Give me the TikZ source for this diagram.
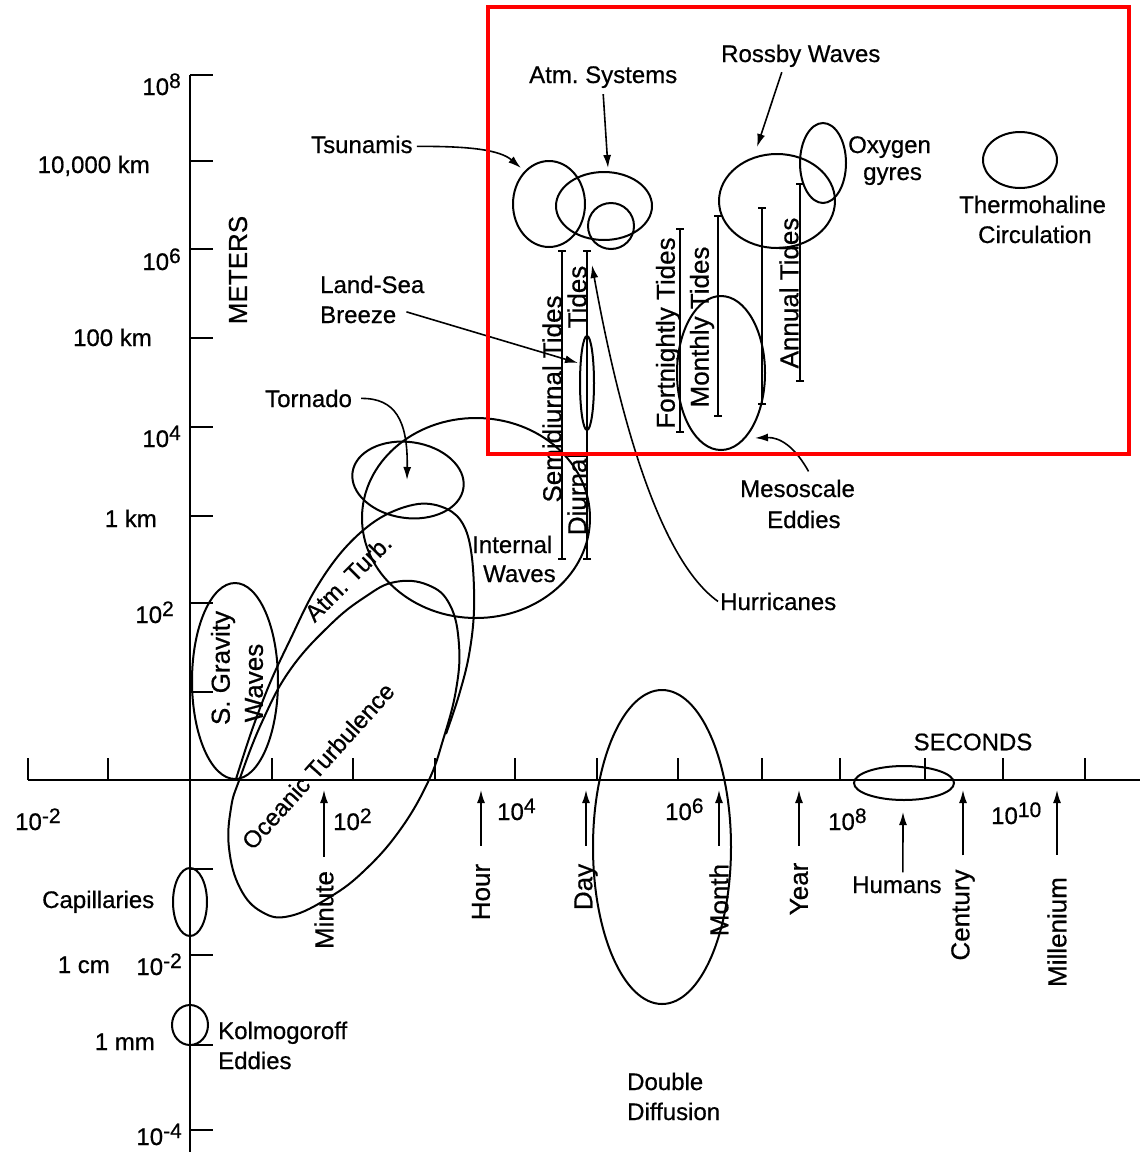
\documentclass[tikz,border=0pt]{standalone}
\usepackage{fontspec}
\setmainfont{Liberation Sans}[FakeBold=0.6]
\usetikzlibrary{arrows.meta}
\newcommand\pw[1]{10\raisebox{7pt}{\fontsize{21}{21}\selectfont #1}}
\frenchspacing
\begin{document}
\begin{tikzpicture}[x=1pt,y=-1pt,
  lbl/.style={inner sep=0pt,font=\fontsize{24}{28}\selectfont\frenchspacing},
  vlbl/.style={inner sep=0pt,rotate=90,font=\fontsize{26}{30}\selectfont\frenchspacing},
  shp/.style={line width=2pt},
  axisline/.style={line width=2.4pt},
  arr/.style={line width=1.6pt,-{Latex[length=13pt,width=8pt]}},
  tide/.style={line width=1.6pt,{Bar[width=8pt]}-{Bar[width=8pt]}},
  redbox/.style={draw=red,line width=4.5pt}]
\useasboundingbox (0,0) rectangle (1140,1152);
\fill[white] (0,0) rectangle (1140,1152);

% ---------------- axes
\draw[axisline] (28,780) -- (1140,780);
\draw[axisline] (190,75) -- (190,1152);
\foreach \x in {28,108,272,353,435,515,597,678,762,840,925,1003,1085}
  \draw[axisline] (\x,780) -- (\x,758);
\foreach \y in {75,161,249,338,427,516,603,692,869,955,1045,1130}
  \draw[axisline] (190,\y) -- (213,\y);

% vertical axis labels
\node[lbl,anchor=base east] (y8)  at (181,95)  {\pw{8}};
\node[lbl,anchor=base east] (y7)  at (150,173) {10,000 km};
\node[lbl,anchor=base east] (y6)  at (181,270) {\pw{6}};
\node[lbl,anchor=base east] (y5)  at (152,346) {100 km};
\node[lbl,anchor=base east] (y4)  at (181,447) {\pw{4}};
\node[lbl,anchor=base east] (y3)  at (157,527) {1 km};
\node[lbl,anchor=base east] (y2)  at (174,623) {\pw{2}};
\node[lbl,anchor=base east] (ym2) at (182,975) {\pw{-2}};
\node[lbl,anchor=base east] (ycm) at (110,973) {1 cm};
\node[lbl,anchor=base east] (ymm) at (155,1050) {1 mm};
\node[lbl,anchor=base east] (ym4) at (182,1145) {\pw{-4}};
\node[vlbl] (meters) at (238,270) {METERS};

% horizontal axis labels
\node[lbl,anchor=base west] (xm2) at (15,830)  {\pw{-2}};
\node[lbl,anchor=base west] (x2)  at (333,830) {\pw{2}};
\node[lbl,anchor=base west] (x4)  at (497,820) {\pw{4}};
\node[lbl,anchor=base west] (x6)  at (665,820) {\pw{6}};
\node[lbl,anchor=base west] (x8)  at (828,830) {\pw{8}};
\node[lbl,anchor=base west] (x10) at (991,824) {\pw{10}};
\node[lbl] (seconds) at (973,742) {SECONDS};

% time markers
\node[vlbl] (minute) at (324,910) {Minute};
\node[vlbl] (hour)   at (481,892) {Hour};
\node[vlbl] (day)    at (586,887) {Day};
\node[vlbl] (month)  at (719,900) {Month};
\node[vlbl] (year)   at (799,889) {Year};
\node[vlbl] (century) at (963,915) {Century};
\node[vlbl] (millen) at (1057,932) {Millenium};
\coordinate (tmin) at (324,790);
\coordinate (thour) at (481,790);
\coordinate (tday) at (586,790);
\coordinate (tmonth) at (719,790);
\coordinate (tyear) at (799,790);
\coordinate (tcent) at (963,790);
\coordinate (tmill) at (1057,790);
\draw[arr] ([yshift=14pt]minute.east) -- (tmin);
\draw[arr] ([yshift=18pt]hour.east) -- (thour);
\draw[arr] ([yshift=18pt]day.east) -- (tday);
\draw[arr] ([yshift=18pt]month.east) -- (tmonth);
\draw[arr] ([yshift=17pt]year.east) -- (tyear);
\draw[arr] ([yshift=14pt]century.east) -- (tcent);
\draw[arr] ([yshift=22pt]millen.east) -- (tmill);

% ---------------- small-scale phenomena
\draw[shp] (235,681) ellipse [x radius=43,y radius=98];
\node[vlbl] (sgrav) at (223,668) {S. Gravity};
\node[vlbl] (sgw) at (254,683) {Waves};

\draw[shp] (190,902) ellipse [x radius=17,y radius=34];
\node[lbl,anchor=base west] (capil) at (42,908) {Capillaries};

\draw[shp] (190,1025) ellipse [x radius=18,y radius=20];
\node[lbl,anchor=base west] (kolmo) at (218,1039) {Kolmogoroff};
\node[lbl,anchor=base west] (kolme) at (218,1069) {Eddies};

% oceanic turbulence
\draw[shp] plot[smooth cycle,tension=0.7] coordinates {
 (240,778) (262,722) (290,670) (330,625) (365,597) (395,582) (428,585)
 (450,605) (459,645) (456,690) (443,740) (428,782) (400,830) (365,870)
 (330,897) (290,916) (262,912) (240,888) (229,848) (231,808)};
\node[lbl,rotate=48] (ocean) at (318,766) {Oceanic Turbulence};

% atmospheric turbulence
\draw[shp] plot[smooth,tension=0.6] coordinates {
 (236,779) (252,730) (270,683) (290,640) (315,590) (345,548) (380,518)
 (418,504) (447,509) (464,526) (472,558) (474,610) (469,655) (459,695) (446,734)};
\node[lbl,rotate=45] (atmturb) at (348,578) {Atm. Turb.};

% internal waves, tornado
\draw[shp] (476,518) ellipse [x radius=114,y radius=100];
\node[lbl,anchor=base west] (intw1) at (472,553) {Internal};
\node[lbl,anchor=base west] (intw2) at (483,582) {Waves};
\draw[shp] (408,480) ellipse [x radius=56,y radius=38,rotate=-8];
\node[lbl,anchor=base west] (tornado) at (265,407) {Tornado};
\coordinate (torntip) at (407,480);
\draw[arr] ([xshift=9pt]tornado.east) .. controls (395,398) and (408,420) .. (torntip);

% ---------------- tides
\draw[tide] (562,250) -- (562,560);
\draw[tide] (587,250) -- (587,560);
\draw[tide] (680,228) -- (680,433);
\draw[tide] (718,215) -- (718,417);
\draw[tide] (762,207) -- (762,405);
\draw[tide] (800,183) -- (800,382);
\node[vlbl] (semi) at (552,399) {Semidiurnal Tides};
\node[vlbl] (dtides) at (577,297) {Tides};
\node[vlbl] (diurnal) at (577,494) {Diurnal};
\node[vlbl] (fort) at (668,333) {Fortnightly Tides};
\node[vlbl] (monthly) at (702,327) {Monthly Tides};
\node[vlbl] (annual) at (789,293) {Annual Tides};

% land-sea breeze
\draw[shp] (587,383) ellipse [x radius=7,y radius=47];
\node[lbl,anchor=base west] (land) at (320,293) {Land-Sea};
\node[lbl,anchor=base west] (breeze) at (320,323) {Breeze};
\coordinate (lstip) at (578,363);
\draw[arr] ([xshift=10pt,yshift=3pt]breeze.east) -- (lstip);

% tsunamis, atm systems
\draw[shp] (549,204) ellipse [x radius=36,y radius=43];
\draw[shp] (604,206) ellipse [x radius=48,y radius=34];
\draw[shp] (611,226) ellipse [x radius=23,y radius=23];
\node[lbl,anchor=base west] (tsun) at (311,153) {Tsunamis};
\coordinate (tsuntip) at (521,168);
\draw[arr] ([xshift=4pt,yshift=-2pt]tsun.east) .. controls (470,146) and (500,150) .. (tsuntip);
\node[lbl,anchor=base west] (atmsys) at (529,83) {Atm. Systems};
\coordinate (atmtip) at (608,168);
\draw[arr] ([yshift=-6pt]atmsys.south) -- (atmtip);

% hurricanes
\node[lbl,anchor=base west] (hurr) at (720,610) {Hurricanes};
\coordinate (hurtip) at (592,265);
\draw[arr] ([xshift=-2pt]hurr.west) .. controls (660,560) and (620,420) .. (hurtip);

% rossby, oxygen, thermohaline
\draw[shp] (777,201) ellipse [x radius=58,y radius=47];
\node[lbl,anchor=base west] (rossby) at (721,62) {Rossby Waves};
\coordinate (rosstip) at (757,147);
\draw[arr] ([xshift=-19pt,yshift=-5pt]rossby.south) -- (rosstip);
\draw[shp] (823,163) ellipse [x radius=23,y radius=40];
\node[lbl,anchor=base west] (oxy) at (848,153) {Oxygen};
\node[lbl,anchor=base west] (gyres) at (863,180) {gyres};
\draw[shp] (1020,160) ellipse [x radius=37,y radius=28];
\node[lbl,anchor=base west] (thermo) at (959,213) {Thermohaline};
\node[lbl,anchor=base west] (circ) at (978,243) {Circulation};

% mesoscale eddies
\draw[shp] (721,373) ellipse [x radius=44,y radius=77];
\node[lbl,anchor=base west] (meso) at (740,497) {Mesoscale};
\node[lbl,anchor=base west] (mesoe) at (767,528) {Eddies};
\coordinate (mesotip) at (755,438);
\draw[arr] ([xshift=11pt,yshift=8pt]meso.north) .. controls (795,447) and (780,437) .. (mesotip);

% double diffusion
\draw[shp] (662,847) ellipse [x radius=69,y radius=157];
\node[lbl,anchor=base west] (dd1) at (627,1090) {Double};
\node[lbl,anchor=base west] (dd2) at (627,1120) {Diffusion};

% humans
\draw[shp] (904,783) ellipse [x radius=50,y radius=17];
\node[lbl,anchor=base west] (humans) at (852,893) {Humans};
\coordinate (humtip) at (903,812);
\draw[arr] ([xshift=6pt,yshift=4pt]humans.north) -- (humtip);

% highlight box
\draw[redbox] (488,7) rectangle (1129,454);
\end{tikzpicture}
\end{document}
